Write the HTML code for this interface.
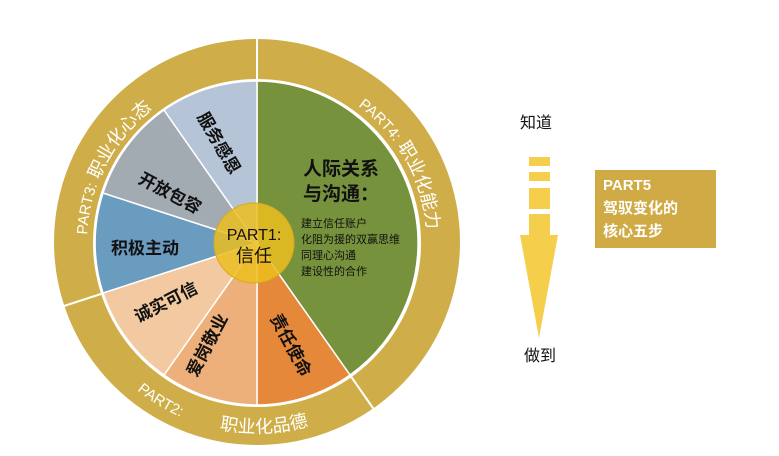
<!DOCTYPE html>
<html><head><meta charset="utf-8"><style>
body{margin:0;background:#fff}
svg text{font-family:"Liberation Sans","Noto Sans CJK SC",sans-serif}
</style></head><body>
<svg width="779" height="451" viewBox="0 0 779 451" xmlns="http://www.w3.org/2000/svg">
<defs>
<path id="p4" d="M 257 73 A 170 170 0 0 1 354 383"/>
<path id="p3" d="M 89.6 272.5 A 170 170 0 0 1 242 73.6"/>
<path id="p2" d="M 111.5 365 A 190 190 0 0 0 366 398.6"/>
</defs>
<circle cx="257" cy="242" r="203" fill="#CFAE4A"/>
<circle cx="257" cy="243" r="164" fill="#fff"/>
<g stroke="#fff" stroke-width="2">
<line x1="257" y1="36" x2="257" y2="80"/>
<line x1="350" y1="375" x2="375" y2="411"/>
<line x1="104" y1="293" x2="64" y2="306"/>
</g>
<g stroke="#fff" stroke-width="1.5">
<path d="M257 243 L257 81 A162 162 0 0 1 350 375 Z" fill="#76923C"/>
<path d="M257 243 L350 375 A162 162 0 0 1 257 405 Z" fill="#E6883A"/>
<path d="M257 243 L257 405 A162 162 0 0 1 164 375 Z" fill="#EDB07A"/>
<path d="M257 243 L164 375 A162 162 0 0 1 103 293 Z" fill="#F2C9A0"/>
<path d="M257 243 L103 293 A162 162 0 0 1 103 193 Z" fill="#6A9CC0"/>
<path d="M257 243 L103 193 A162 162 0 0 1 164 110 Z" fill="#A2AAB2"/>
<path d="M257 243 L164 110 A162 162 0 0 1 257 81 Z" fill="#B6C4D8"/>
</g>
<circle cx="254" cy="243" r="40" fill="#EBBE1E" fill-opacity="0.85" stroke="#D9A820" stroke-width="1"/>
<text x="254" y="240" font-size="16" text-anchor="middle" fill="#111">PART1:</text>
<text x="254" y="262" font-size="18" text-anchor="middle" fill="#111">信任</text>
<g font-size="17" font-weight="bold" fill="#111" text-anchor="middle">
<text transform="translate(219,143) rotate(60)" dy="6">服务感恩</text>
<text transform="translate(170,193) rotate(28)" dy="6">开放包容</text>
<text x="145" y="254">积极主动</text>
<text transform="translate(166,302) rotate(-27)" dy="6">诚实可信</text>
<text transform="translate(207,345) rotate(-62)" dy="6">爱岗敬业</text>
<text transform="translate(291,345) rotate(62)" dy="6">责任使命</text>
</g>
<text x="303" y="175" font-size="19" font-weight="bold" fill="#111">人际关系</text>
<text x="303" y="200" font-size="19" font-weight="bold" fill="#111">与沟通：</text>
<g font-size="11" fill="#111">
<text x="301" y="227">建立信任账户</text>
<text x="301" y="243">化阻为援的双赢思维</text>
<text x="301" y="259">同理心沟通</text>
<text x="301" y="275">建设性的合作</text>
</g>
<g fill="#fff" font-size="18">
<text><textPath href="#p4" startOffset="108"><tspan font-size="15">PART4:</tspan> 职业化能力</textPath></text>
<text><textPath href="#p3" startOffset="38"><tspan font-size="15">PART3:</tspan> 职业化心态</textPath></text>
<text font-size="15"><textPath href="#p2" startOffset="36">PART2:</textPath></text>
<text><textPath href="#p2" startOffset="128">职业化品德</textPath></text>
</g>
<g fill="#F5CF4B">
<rect x="529" y="157" width="21" height="9"/>
<rect x="529" y="172" width="21" height="9"/>
<rect x="529" y="188" width="21" height="21"/>
<rect x="529" y="214" width="21" height="22"/>
<polygon points="520,235 558,235 539,338"/>
</g>
<text x="520" y="128" font-size="16" fill="#111">知道</text>
<text x="524" y="361" font-size="16" fill="#111">做到</text>
<rect x="595" y="170" width="121" height="78" fill="#CFAA45"/>
<g fill="#fff" font-size="15" font-weight="bold">
<text x="603" y="190">PART5</text>
<text x="603" y="213">驾驭变化的</text>
<text x="603" y="236">核心五步</text>
</g>
</svg>
</body></html>
